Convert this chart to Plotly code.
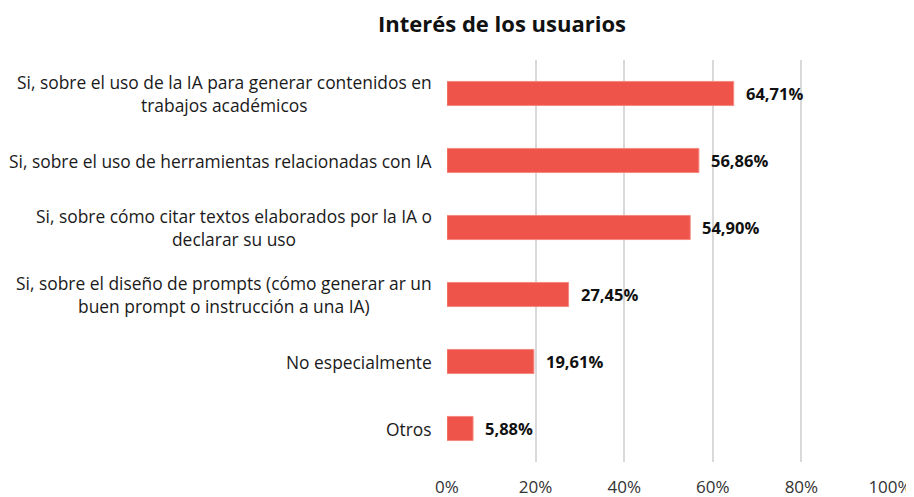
import plotly.graph_objects as go

# Categorias (de cima para baixo) e valores em %
categorias = [
    "Si, sobre el uso de la IA para generar contenidos en<br>trabajos académicos",
    "Si, sobre el uso de herramientas relacionadas con IA",
    "Si, sobre cómo citar textos elaborados por la IA o<br>declarar su uso",
    "Si, sobre el diseño de prompts (cómo generar ar un<br>buen prompt o instrucción a una IA)",
    "No especialmente",
    "Otros",
]
valores = [64.71, 56.86, 54.90, 27.45, 19.61, 5.88]
rotulos = ["64,71%", "56,86%", "54,90%", "27,45%", "19,61%", "5,88%"]
ticks_x = [0, 20, 40, 60, 80, 100]
ticks_txt = ["0%", "20%", "40%", "60%", "80%", "100%"]

FONTE = "Open Sans, sans-serif"
COR_BARRA = "#EF544B"

# a página tem 8px de margem no body, então a figura é 8px menor que a janela
W, H = 906, 489

fig = go.Figure(go.Bar(
    x=valores,
    y=categorias,
    orientation="h",
    marker=dict(color=COR_BARRA, line=dict(color="#F4897F", width=1)),
    width=0.36,
    hoverinfo="skip",
))

anotacoes = []
# rótulos de valor (negrito) à direita das barras
for cat, v, r in zip(categorias, valores, rotulos):
    anotacoes.append(dict(
        x=v, y=cat, xref="x", yref="y", text=f"<b>{r}</b>",
        showarrow=False, xanchor="left", xshift=10,
        font=dict(family=FONTE, size=16.5, color="#111111"),
    ))
# rótulos das categorias centralizados (como no Excel)
for cat in categorias:
    anotacoes.append(dict(
        x=0, y=cat, xref="paper", yref="y", text=cat,
        showarrow=False, xanchor="right", xshift=-13, align="center",
        font=dict(family=FONTE, size=17.4, color="#1a1a1a"),
    ))

fig.update_layout(
    width=W,
    height=H,
    paper_bgcolor="white",
    plot_bgcolor="white",
    margin=dict(l=439, r=24, t=52, b=35, autoexpand=False),
    title=dict(
        text="<b>Interés de los usuarios</b>",
        x=494 / W, xanchor="center", xref="container",
        y=1 - 16 / H, yanchor="middle",
        font=dict(family=FONTE, size=22, color="#111111"),
    ),
    showlegend=False,
    annotations=anotacoes,
    xaxis=dict(
        range=[0, 100],
        tickvals=ticks_x,
        ticktext=ticks_txt,
        showgrid=True,
        gridcolor="#D9D9D9",
        gridwidth=1.5,
        zeroline=False,
        showline=False,
        ticks="",
        ticklabelstandoff=13,
        automargin=False,
        tickfont=dict(family=FONTE, size=17, color="#333333"),
    ),
    yaxis=dict(
        autorange="reversed",
        showticklabels=False,
        showgrid=False,
        zeroline=False,
        showline=False,
        ticks="",
        automargin=False,
    ),
)

fig.write_html("out.html")
